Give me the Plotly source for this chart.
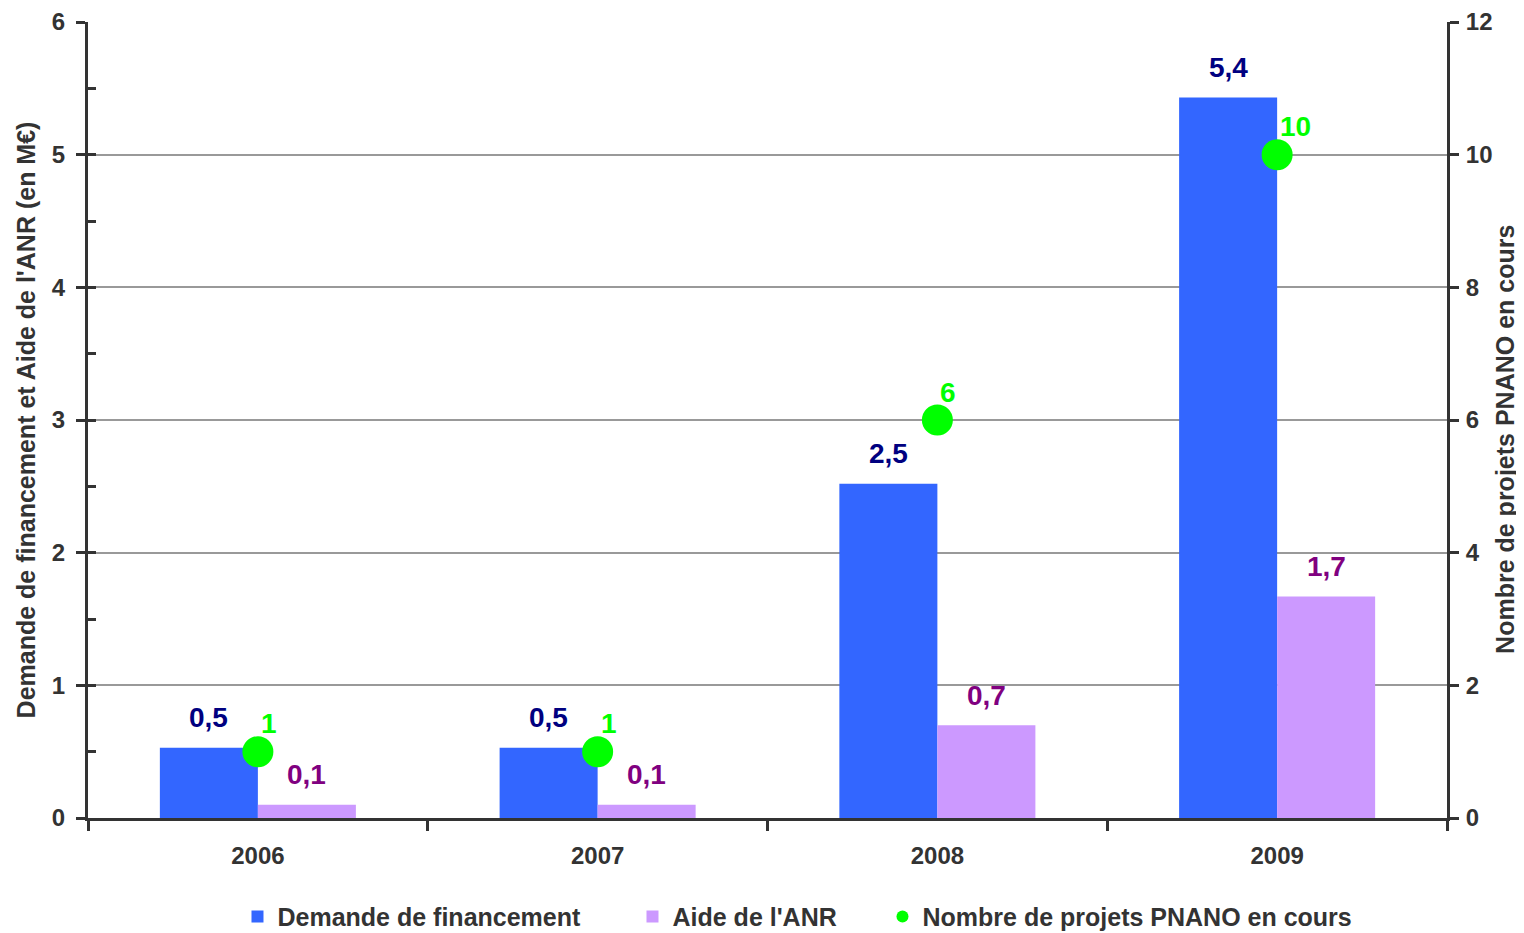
import plotly.graph_objects as go

years = ["2006", "2007", "2008", "2009"]
demande = [0.53, 0.53, 2.52, 5.43]
aide = [0.10, 0.10, 0.70, 1.67]
projets = [1, 1, 6, 10]
demande_labels = ["0,5", "0,5", "2,5", "5,4"]
aide_labels = ["0,1", "0,1", "0,7", "1,7"]
projets_labels = ["1", "1", "6", "10"]

C_BLUE = "#3366FF"
C_PURPLE = "#CC99FF"
C_GREEN = "#00FF00"
C_NAVY = "#000080"
C_PLUM = "#800080"
C_TEXT = "#333333"
FONT = "Liberation Sans"

fig = go.Figure()
fig.add_trace(go.Bar(x=years, y=demande, name="Demande de financement",
                     marker=dict(color=C_BLUE, line=dict(width=0)), legendwidth=350))
fig.add_trace(go.Bar(x=years, y=aide, name="Aide de l'ANR",
                     marker=dict(color=C_PURPLE, line=dict(width=0)), legendwidth=205))
fig.add_trace(go.Scatter(x=years, y=projets, name="Nombre de projets PNANO en cours",
                         mode="markers", yaxis="y2",
                         marker=dict(color=C_GREEN, size=31)))
# invisible helper trace carrying the inner half-unit ticks of the left axis
fig.add_trace(go.Scatter(x=years, y=demande, yaxis="y3", mode="markers",
                         marker=dict(opacity=0, size=1), showlegend=False,
                         hoverinfo="skip"))

idx = list(range(len(years)))
ann = []
for i, v, t in zip(idx, demande, demande_labels):
    ann.append(dict(x=i, y=v, xref="x", yref="y", text=t, showarrow=False,
                    xshift=-49, yshift=30, yanchor="middle",
                    font=dict(family=FONT, size=28, color=C_NAVY)))
for i, v, t in zip(idx, aide, aide_labels):
    ann.append(dict(x=i, y=v, xref="x", yref="y", text=t, showarrow=False,
                    xshift=49, yshift=30, yanchor="middle",
                    font=dict(family=FONT, size=28, color=C_PLUM)))
for i, v, t in zip(idx, projets, projets_labels):
    ann.append(dict(x=i, y=v, xref="x", yref="y2", text=t, showarrow=False,
                    xanchor="left", xshift=1, yshift=28, yanchor="middle",
                    font=dict(family=FONT, size=28, color=C_GREEN)))
for a in ann:
    a["text"] = "<b>" + a["text"] + "</b>"

# right axis title (placed slightly below the plot centre as in the original)
ann.append(dict(x=1, y=0.475, xref="paper", yref="paper", xanchor="center",
                yanchor="middle", xshift=58, textangle=-90, showarrow=False,
                text="<b>Nombre de projets PNANO en cours</b>",
                font=dict(family=FONT, size=25, color=C_TEXT)))

tickfont = dict(family=FONT, size=24, color=C_TEXT, weight="bold")
titlefont = dict(family=FONT, size=25, color=C_TEXT, weight="bold")

fig.update_layout(
    width=1516, height=925,
    margin=dict(l=80, r=77, t=14, b=115, autoexpand=False),
    paper_bgcolor="white", plot_bgcolor="white",
    barmode="group", bargap=0.423, bargroupgap=0,
    showlegend=True,
    legend=dict(orientation="h", x=0.110, xanchor="left", y=-0.124, yanchor="middle",
                font=dict(family=FONT, size=25, color=C_TEXT, weight="bold"),
                itemsizing="constant", traceorder="normal"),
    xaxis=dict(type="category", tickson="boundaries", ticks="outside", ticklen=10,
               tickwidth=3, tickcolor=C_TEXT, showline=True, linewidth=3, linecolor=C_TEXT,
               showgrid=False, tickfont=tickfont, ticklabelstandoff=14,
               range=[-0.5, 3.5], automargin=False),
    yaxis=dict(range=[0, 6], dtick=1, ticks="outside", ticklen=9, tickwidth=3,
               tickcolor=C_TEXT, showline=True, linewidth=3, linecolor=C_TEXT,
               showgrid=True, gridcolor="#999999", gridwidth=2, zeroline=False,
               tickfont=tickfont, ticklabelstandoff=6, automargin=False,
               title=dict(text="Demande de financement et Aide de l'ANR (en M€)",
                          font=titlefont, standoff=10)),
    yaxis2=dict(range=[0, 12], dtick=2, overlaying="y", side="right", ticks="outside",
                ticklen=9, tickwidth=3, tickcolor=C_TEXT, showline=True, linewidth=3,
                linecolor=C_TEXT, showgrid=False, zeroline=False, tickfont=tickfont,
                ticklabelstandoff=2, automargin=False),
    yaxis3=dict(range=[0, 6], dtick=0.5, overlaying="y", side="left", ticks="inside",
                ticklen=8, tickwidth=3, tickcolor=C_TEXT, showline=False,
                showgrid=False, zeroline=False, showticklabels=False, automargin=False),
    annotations=ann,
)

fig.write_html("out.html")
